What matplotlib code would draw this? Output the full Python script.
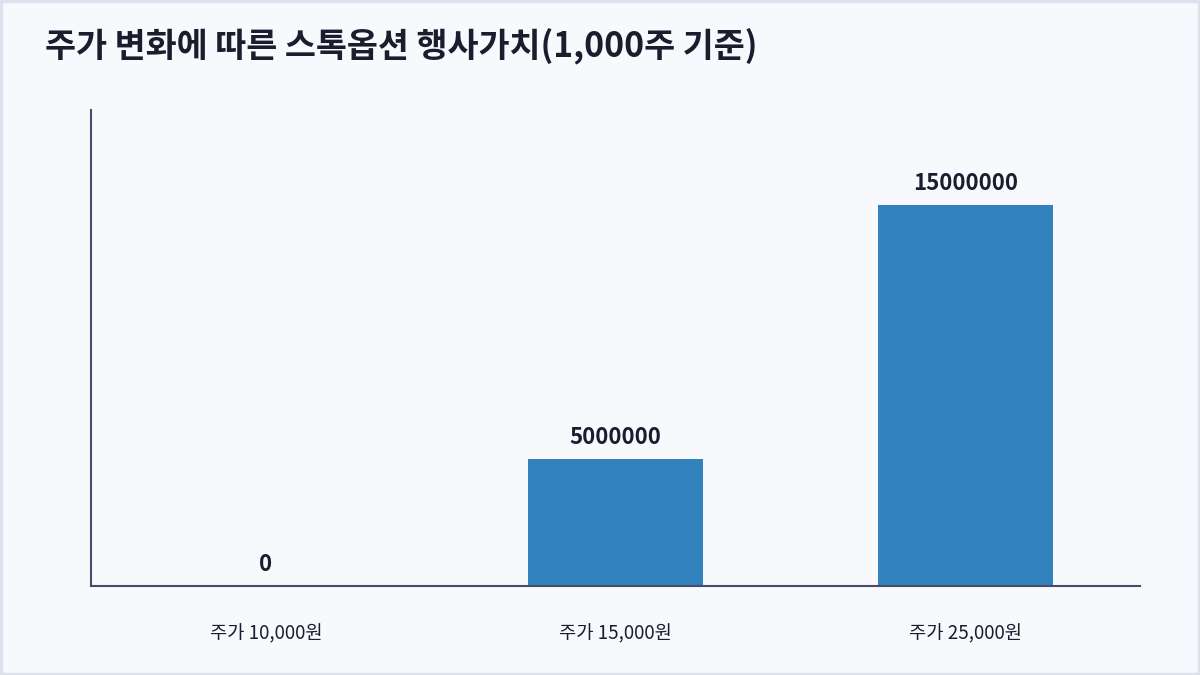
import matplotlib
matplotlib.use("Agg")
import matplotlib.pyplot as plt
from matplotlib.patches import Rectangle

plt.rcParams['font.family'] = ['Noto Sans CJK KR', 'DejaVu Sans']

# ── 데이터 ─────────────────────────────────────────────
categories = ["주가 10,000원", "주가 15,000원", "주가 25,000원"]
values     = [0, 5000000, 15000000]
title      = "주가 변화에 따른 스톡옵션 행사가치(1,000주 기준)"

BG       = "#f7f9fd"
BAR      = "#3182bd"
TEXT     = "#1c1c2e"
SPINE    = "#4a4a6a"
BORDER   = "#dde3ec"

fig = plt.figure(figsize=(12, 6.75), dpi=100, facecolor=BG)
ax = fig.add_axes([91 / 1200, 1 - 586 / 675, 1049 / 1200, 476 / 675])
ax.set_facecolor(BG)

x = range(len(categories))
bars = ax.bar(x, values, width=0.5, color=BAR, zorder=2)

ax.set_xlim(-0.5, 2.5)
ax.set_ylim(0, max(values) * 1.25)

for b, v in zip(bars, values):
    ax.annotate(f"{v}", (b.get_x() + b.get_width() / 2, v),
                xytext=(0, 7), textcoords="offset points",
                ha="center", va="bottom", fontsize=16,
                fontweight="bold", color=TEXT)

ax.set_xticks(list(x))
ax.set_xticklabels(categories, fontsize=13.5, color=TEXT)
ax.tick_params(axis="x", length=0, pad=27)
ax.set_yticks([])

for s in ("top", "right"):
    ax.spines[s].set_visible(False)
for s in ("left", "bottom"):
    ax.spines[s].set_color(SPINE)
    ax.spines[s].set_linewidth(1.5)
ax.spines["bottom"].set_zorder(3)

fig.text(45 / 1200, 1 - 46 / 675, title, fontsize=24.3, fontweight="bold",
         color=TEXT, ha="left", va="center")

# 테두리
fig.patches.append(Rectangle((0.001, 0.002), 0.998, 0.996, transform=fig.transFigure,
                             fill=False, edgecolor=BORDER, linewidth=2.5))

fig.savefig("out.png", dpi=100, facecolor=BG)
